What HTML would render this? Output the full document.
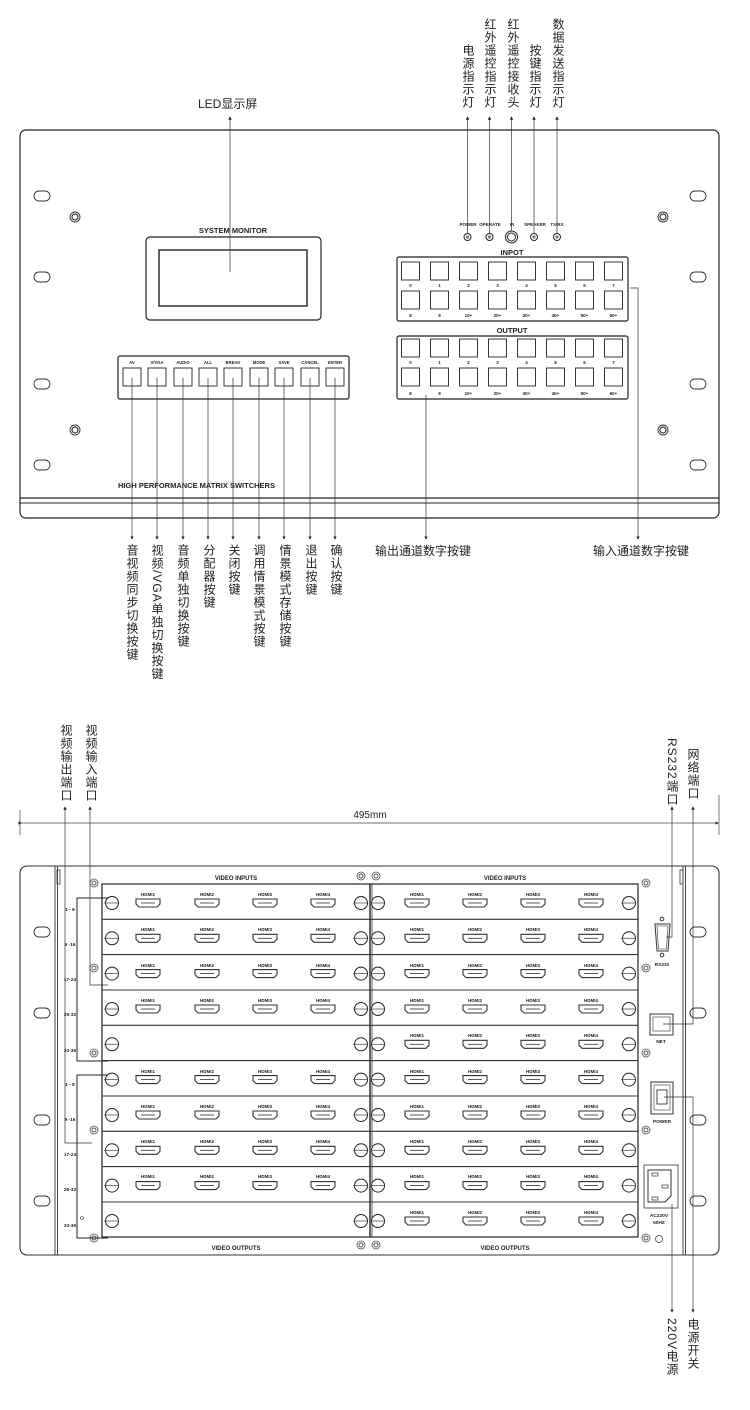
<!DOCTYPE html>
<html><head><meta charset="utf-8"><style>
html,body{margin:0;padding:0;background:#fff;}
#w{position:relative;width:750px;height:1410px;overflow:hidden;font-family:"Liberation Sans","Noto Sans CJK SC",sans-serif;}
.v{position:absolute;writing-mode:vertical-rl;font-size:12px;line-height:13px;letter-spacing:1px;color:#222;font-family:"Liberation Sans","Noto Sans CJK SC",sans-serif;}
.h{position:absolute;font-size:12px;color:#222;white-space:nowrap;font-family:"Liberation Sans","Noto Sans CJK SC",sans-serif;}
svg text{font-family:"Liberation Sans",sans-serif;font-weight:bold;fill:#222;}
</style></head><body><div id="w">
<svg width="750" height="1410" viewBox="0 0 750 1410" style="position:absolute;left:0;top:0">
<defs>
<marker id="a" markerWidth="5" markerHeight="5" refX="2.5" refY="2.5" orient="auto"><path d="M0,0L5,2.5L0,5z" fill="#222"/></marker>
<g id="oval"><rect x="-8" y="-5" width="16" height="10" rx="5" fill="none" stroke="#333" stroke-width="0.9"/></g>
<g id="scr"><circle r="5" fill="none" stroke="#333" stroke-width="0.9"/><circle r="3" fill="none" stroke="#333" stroke-width="1.2"/></g>
<g id="sscr"><circle r="4" fill="none" stroke="#555" stroke-width="0.8"/><circle r="2" fill="none" stroke="#555" stroke-width="1"/></g>
<g id="btn"><rect x="-9" y="0" width="18" height="18" fill="none" stroke="#222" stroke-width="0.9"/></g>
<g id="hc"><path d="M-12,15h24v5l-3,3h-18l-3,-3z" fill="none" stroke="#333" stroke-width="1.1"/><line x1="-7" y1="19" x2="7" y2="19" stroke="#333" stroke-width="0.8"/></g>
<g id="ci"><circle r="6.5" fill="#fff" stroke="#222" stroke-width="1"/><line x1="-8" y1="0" x2="6.5" y2="0" stroke="#555" stroke-width="0.8"/></g>
<g id="rowL"><use href="#ci" x="112" y="19"/><use href="#ci" x="361" y="19"/><use href="#hc" x="148"/><use href="#hc" x="207"/><use href="#hc" x="265"/><use href="#hc" x="323"/></g>
<g id="rowE"><use href="#ci" x="112" y="19"/><use href="#ci" x="361" y="19"/></g>
<g id="rowR"><use href="#ci" x="378" y="19"/><use href="#ci" x="629" y="19"/><use href="#hc" x="417"/><use href="#hc" x="475"/><use href="#hc" x="533"/><use href="#hc" x="591"/></g>
</defs>
<g stroke="#222" fill="none">
<!-- top panel -->
<rect x="20" y="130" width="699" height="388" rx="6" stroke-width="1.2"/>
<line x1="20" y1="498" x2="719" y2="498" stroke-width="1.2"/>
<line x1="20" y1="503" x2="719" y2="503" stroke-width="1"/>
<rect x="146" y="237" width="175" height="83" rx="4" stroke-width="1.2"/>
<rect x="159" y="250" width="148" height="56" stroke-width="1.4"/>
<rect x="118" y="356" width="231" height="43" rx="2" stroke-width="1.2"/>
<rect x="397" y="257" width="231" height="64" rx="2" stroke-width="1.2"/>
<rect x="397" y="336" width="231" height="63" rx="2" stroke-width="1.2"/>
</g>
<use href="#oval" x="42" y="196"/><use href="#oval" x="42" y="277"/><use href="#oval" x="42" y="384"/><use href="#oval" x="42" y="465"/>
<use href="#oval" x="698" y="196"/><use href="#oval" x="698" y="277"/><use href="#oval" x="698" y="384"/><use href="#oval" x="698" y="465"/>
<use href="#scr" x="75" y="217"/><use href="#scr" x="75" y="430"/><use href="#scr" x="663" y="217"/><use href="#scr" x="663" y="430"/>
<text x="233" y="233" font-size="7.5" text-anchor="middle">SYSTEM MONITOR</text>
<text x="118" y="488" font-size="7.5">HIGH PERFORMANCE MATRIX SWITCHERS</text>
<text x="512" y="255" font-size="7.5" text-anchor="middle">INPOT</text>
<text x="512" y="333" font-size="7.5" text-anchor="middle">OUTPUT</text>
<g font-size="4.5" text-anchor="middle">
<text x="468" y="226">POWER</text><text x="490" y="226">OPERATE</text><text x="512" y="226">IR</text><text x="535" y="226">SPEAKER</text><text x="557" y="226">TX/RX</text>
</g>
<g fill="none" stroke="#222" stroke-width="1"><circle cx="467.5" cy="237" r="3.5"/><circle cx="489.5" cy="237" r="3.5"/><circle cx="511.5" cy="237" r="6"/><circle cx="511.5" cy="237" r="4"/><circle cx="534" cy="237" r="3.5"/><circle cx="557" cy="237" r="3.5"/></g>
<g fill="#777"><circle cx="467.5" cy="237" r="1.6"/><circle cx="489.5" cy="237" r="1.6"/><circle cx="534" cy="237" r="1.6"/><circle cx="557" cy="237" r="1.6"/></g>
<!-- function buttons -->
<g><use href="#btn" x="132" y="368"/><use href="#btn" x="157" y="368"/><use href="#btn" x="183" y="368"/><use href="#btn" x="208" y="368"/><use href="#btn" x="233" y="368"/><use href="#btn" x="259" y="368"/><use href="#btn" x="284" y="368"/><use href="#btn" x="310" y="368"/><use href="#btn" x="335" y="368"/></g>
<g font-size="4.2" text-anchor="middle"><text x="132" y="364">AV</text><text x="157" y="364">V/VGA</text><text x="183" y="364">AUDIO</text><text x="208" y="364">ALL</text><text x="233" y="364">BREAK</text><text x="259" y="364">MODE</text><text x="284" y="364">SAVE</text><text x="310" y="364">CANCEL</text><text x="335" y="364">ENTER</text></g>
<!-- number buttons -->
<g>
<use href="#btn" x="410.5" y="262"/><use href="#btn" x="439.5" y="262"/><use href="#btn" x="468.5" y="262"/><use href="#btn" x="497.5" y="262"/><use href="#btn" x="526.5" y="262"/><use href="#btn" x="555.5" y="262"/><use href="#btn" x="584.5" y="262"/><use href="#btn" x="613.5" y="262"/>
<use href="#btn" x="410.5" y="291"/><use href="#btn" x="439.5" y="291"/><use href="#btn" x="468.5" y="291"/><use href="#btn" x="497.5" y="291"/><use href="#btn" x="526.5" y="291"/><use href="#btn" x="555.5" y="291"/><use href="#btn" x="584.5" y="291"/><use href="#btn" x="613.5" y="291"/>
<use href="#btn" x="410.5" y="339"/><use href="#btn" x="439.5" y="339"/><use href="#btn" x="468.5" y="339"/><use href="#btn" x="497.5" y="339"/><use href="#btn" x="526.5" y="339"/><use href="#btn" x="555.5" y="339"/><use href="#btn" x="584.5" y="339"/><use href="#btn" x="613.5" y="339"/>
<use href="#btn" x="410.5" y="368"/><use href="#btn" x="439.5" y="368"/><use href="#btn" x="468.5" y="368"/><use href="#btn" x="497.5" y="368"/><use href="#btn" x="526.5" y="368"/><use href="#btn" x="555.5" y="368"/><use href="#btn" x="584.5" y="368"/><use href="#btn" x="613.5" y="368"/>
</g>
<g font-size="4.5" text-anchor="middle">
<text x="410.5" y="287">0</text><text x="439.5" y="287">1</text><text x="468.5" y="287">2</text><text x="497.5" y="287">3</text><text x="526.5" y="287">4</text><text x="555.5" y="287">5</text><text x="584.5" y="287">6</text><text x="613.5" y="287">7</text>
<text x="410.5" y="317">8</text><text x="439.5" y="317">9</text><text x="468.5" y="317">10+</text><text x="497.5" y="317">20+</text><text x="526.5" y="317">30+</text><text x="555.5" y="317">40+</text><text x="584.5" y="317">50+</text><text x="613.5" y="317">60+</text>
<text x="410.5" y="364">0</text><text x="439.5" y="364">1</text><text x="468.5" y="364">2</text><text x="497.5" y="364">3</text><text x="526.5" y="364">4</text><text x="555.5" y="364">5</text><text x="584.5" y="364">6</text><text x="613.5" y="364">7</text>
<text x="410.5" y="395">8</text><text x="439.5" y="395">9</text><text x="468.5" y="395">10+</text><text x="497.5" y="395">20+</text><text x="526.5" y="395">30+</text><text x="555.5" y="395">40+</text><text x="584.5" y="395">50+</text><text x="613.5" y="395">60+</text>
</g>
<!-- top leader lines -->
<g stroke="#333" stroke-width="0.7" fill="none" marker-end="url(#a)">
<line x1="230" y1="272" x2="230" y2="118"/>
<line x1="467.5" y1="233" x2="467.5" y2="118"/><line x1="489.5" y1="233" x2="489.5" y2="118"/><line x1="511.5" y1="231" x2="511.5" y2="118"/><line x1="534" y1="233" x2="534" y2="118"/><line x1="557" y1="233" x2="557" y2="118"/>
<line x1="132" y1="378" x2="132" y2="538"/><line x1="157" y1="378" x2="157" y2="538"/><line x1="183" y1="378" x2="183" y2="538"/><line x1="208" y1="378" x2="208" y2="538"/><line x1="233" y1="378" x2="233" y2="538"/><line x1="259" y1="378" x2="259" y2="538"/><line x1="284" y1="378" x2="284" y2="538"/><line x1="310" y1="378" x2="310" y2="538"/><line x1="335" y1="378" x2="335" y2="538"/>
<line x1="426" y1="395" x2="426" y2="538"/>
<polyline points="630,288 638,288 638,538"/>
</g>
<!-- bottom: dimension -->
<g stroke="#444" stroke-width="0.7" fill="none">
<line x1="20" y1="810" x2="20" y2="835"/><line x1="719" y1="795" x2="719" y2="835"/>
<line x1="20" y1="823" x2="717" y2="823" marker-end="url(#a)" marker-start="url(#a)"/>
</g>
<text x="370" y="818" font-size="10" font-weight="normal" text-anchor="middle" style="font-weight:normal">495mm</text>
<!-- rear panel -->
<g stroke="#333" fill="none">
<rect x="20" y="866" width="699" height="389" rx="7" stroke-width="1.1"/>
<line x1="55" y1="866" x2="55" y2="1255" stroke-width="0.9"/><line x1="57.5" y1="866" x2="57.5" y2="1255" stroke-width="0.9"/>
<line x1="683" y1="866" x2="683" y2="1255" stroke-width="0.9"/><line x1="685.5" y1="866" x2="685.5" y2="1255" stroke-width="0.9"/>
<rect x="57" y="870" width="3" height="14" stroke-width="0.8"/><rect x="680" y="870" width="3" height="14" stroke-width="0.8"/>
<rect x="102" y="884" width="268" height="353" stroke-width="1.3"/>
<rect x="370" y="884" width="268" height="353" stroke-width="1.3"/>
<line x1="372" y1="884" x2="372" y2="1237" stroke-width="0.8"/>
<g stroke-width="1.1">
<line x1="102" y1="919.3" x2="638" y2="919.3"/><line x1="102" y1="954.6" x2="638" y2="954.6"/><line x1="102" y1="990" x2="638" y2="990"/><line x1="102" y1="1025.3" x2="638" y2="1025.3"/><line x1="102" y1="1060.6" x2="638" y2="1060.6"/><line x1="102" y1="1096" x2="638" y2="1096"/><line x1="102" y1="1131.3" x2="638" y2="1131.3"/><line x1="102" y1="1166.6" x2="638" y2="1166.6"/><line x1="102" y1="1202" x2="638" y2="1202"/>
</g>
</g>
<use href="#oval" x="42" y="932"/><use href="#oval" x="42" y="1013"/><use href="#oval" x="42" y="1120"/><use href="#oval" x="42" y="1201"/>
<use href="#oval" x="698" y="932"/><use href="#oval" x="698" y="1013"/><use href="#oval" x="698" y="1120"/><use href="#oval" x="698" y="1201"/>
<use href="#sscr" x="94" y="883"/><use href="#sscr" x="94" y="968"/><use href="#sscr" x="94" y="1053"/><use href="#sscr" x="94" y="1130"/><use href="#sscr" x="94" y="1238"/>
<use href="#sscr" x="361" y="876"/><use href="#sscr" x="376" y="876"/><use href="#sscr" x="361" y="1245"/><use href="#sscr" x="376" y="1245"/>
<use href="#sscr" x="646" y="883"/><use href="#sscr" x="646" y="968"/><use href="#sscr" x="646" y="1053"/><use href="#sscr" x="646" y="1130"/><use href="#sscr" x="646" y="1238"/>
<text x="236" y="880" font-size="6" text-anchor="middle">VIDEO INPUTS</text><text x="505" y="880" font-size="6" text-anchor="middle">VIDEO INPUTS</text>
<text x="236" y="1250" font-size="6" text-anchor="middle">VIDEO OUTPUTS</text><text x="505" y="1250" font-size="6" text-anchor="middle">VIDEO OUTPUTS</text>
<!-- rows -->
<use href="#rowL" y="884"/><use href="#rowL" y="919.3"/><use href="#rowL" y="954.6"/><use href="#rowL" y="990"/><use href="#rowE" y="1025.3"/>
<use href="#rowL" y="1060.6"/><use href="#rowL" y="1096"/><use href="#rowL" y="1131.3"/><use href="#rowL" y="1166.6"/><use href="#rowE" y="1202"/>
<use href="#rowR" y="884"/><use href="#rowR" y="919.3"/><use href="#rowR" y="954.6"/><use href="#rowR" y="990"/><use href="#rowR" y="1025.3"/>
<use href="#rowR" y="1060.6"/><use href="#rowR" y="1096"/><use href="#rowR" y="1131.3"/><use href="#rowR" y="1166.6"/><use href="#rowR" y="1202"/>
<g font-size="4.5" text-anchor="middle">
<text x="148" y="896">HDMI1</text><text x="207" y="896">HDMI2</text><text x="265" y="896">HDMI3</text><text x="323" y="896">HDMI4</text><text x="417" y="896">HDMI1</text><text x="475" y="896">HDMI2</text><text x="533" y="896">HDMI3</text><text x="591" y="896">HDMI4</text>
<text x="148" y="931">HDMI1</text><text x="207" y="931">HDMI2</text><text x="265" y="931">HDMI3</text><text x="323" y="931">HDMI4</text><text x="417" y="931">HDMI1</text><text x="475" y="931">HDMI2</text><text x="533" y="931">HDMI3</text><text x="591" y="931">HDMI4</text>
<text x="148" y="967">HDMI1</text><text x="207" y="967">HDMI2</text><text x="265" y="967">HDMI3</text><text x="323" y="967">HDMI4</text><text x="417" y="967">HDMI1</text><text x="475" y="967">HDMI2</text><text x="533" y="967">HDMI3</text><text x="591" y="967">HDMI4</text>
<text x="148" y="1002">HDMI1</text><text x="207" y="1002">HDMI2</text><text x="265" y="1002">HDMI3</text><text x="323" y="1002">HDMI4</text><text x="417" y="1002">HDMI1</text><text x="475" y="1002">HDMI2</text><text x="533" y="1002">HDMI3</text><text x="591" y="1002">HDMI4</text>
<text x="417" y="1037">HDMI1</text><text x="475" y="1037">HDMI2</text><text x="533" y="1037">HDMI3</text><text x="591" y="1037">HDMI4</text>
<text x="148" y="1073">HDMI1</text><text x="207" y="1073">HDMI2</text><text x="265" y="1073">HDMI3</text><text x="323" y="1073">HDMI4</text><text x="417" y="1073">HDMI1</text><text x="475" y="1073">HDMI2</text><text x="533" y="1073">HDMI3</text><text x="591" y="1073">HDMI4</text>
<text x="148" y="1108">HDMI1</text><text x="207" y="1108">HDMI2</text><text x="265" y="1108">HDMI3</text><text x="323" y="1108">HDMI4</text><text x="417" y="1108">HDMI1</text><text x="475" y="1108">HDMI2</text><text x="533" y="1108">HDMI3</text><text x="591" y="1108">HDMI4</text>
<text x="148" y="1143">HDMI1</text><text x="207" y="1143">HDMI2</text><text x="265" y="1143">HDMI3</text><text x="323" y="1143">HDMI4</text><text x="417" y="1143">HDMI1</text><text x="475" y="1143">HDMI2</text><text x="533" y="1143">HDMI3</text><text x="591" y="1143">HDMI4</text>
<text x="148" y="1178">HDMI1</text><text x="207" y="1178">HDMI2</text><text x="265" y="1178">HDMI3</text><text x="323" y="1178">HDMI4</text><text x="417" y="1178">HDMI1</text><text x="475" y="1178">HDMI2</text><text x="533" y="1178">HDMI3</text><text x="591" y="1178">HDMI4</text>
<text x="417" y="1214">HDMI1</text><text x="475" y="1214">HDMI2</text><text x="533" y="1214">HDMI3</text><text x="591" y="1214">HDMI4</text>
</g>
<!-- brackets -->
<g stroke="#222" stroke-width="1" fill="none">
<polyline points="108,898 77,898 77,1061 108,1061"/>
<polyline points="108,1075 77,1075 77,1238 108,1238"/>
</g>
<g font-size="4.8" text-anchor="middle">
<text x="70" y="911">1 - 8</text><text x="70" y="946">9 -16</text><text x="70" y="981">17-24</text><text x="70" y="1016">25-32</text><text x="70" y="1052">33-36</text>
<text x="70" y="1086">1 - 8</text><text x="70" y="1121">9 -16</text><text x="70" y="1156">17-24</text><text x="70" y="1191">25-32</text><text x="70" y="1227">33-36</text>
</g>
<circle cx="82" cy="1218" r="1.5" fill="none" stroke="#333" stroke-width="0.6"/>
<!-- rear right components -->
<g stroke="#333" fill="none" stroke-width="1">
<circle cx="662" cy="919" r="1.8"/><circle cx="662" cy="955" r="1.8"/>
<path d="M655,924h15l-2,27h-11z"/><path d="M657,926h11l-1.5,23h-8z" stroke-width="0.6"/>
<rect x="650" y="1014" width="23" height="21"/><rect x="653" y="1017" width="17" height="14" stroke-width="0.6"/>
<rect x="651" y="1082" width="22" height="32"/><rect x="654" y="1085" width="16" height="25" stroke-width="0.6"/><rect x="657" y="1090" width="10" height="14" stroke-width="0.9"/>
<rect x="644" y="1165" width="34" height="43" stroke-width="0.8"/><path d="M648,1170h23v26l-6,6h-17z" stroke-width="1"/>
<rect x="652" y="1173" width="6" height="3" stroke-width="0.7"/><rect x="662" y="1185" width="6" height="3" stroke-width="0.7"/><rect x="652" y="1197" width="6" height="3" stroke-width="0.7"/>
<circle cx="659" cy="1239" r="3.5" stroke-width="0.7"/>
</g>
<g font-size="4.8" text-anchor="middle"><text x="662" y="966">RS232</text><text x="661" y="1043">NET</text><text x="662" y="1123">POWER</text><text x="659" y="1217">AC220V</text><text x="659" y="1224">50HZ</text></g>
<!-- rear leaders -->
<g stroke="#333" stroke-width="0.7" fill="none">
<polyline points="92,1143 65,1143 65,808" marker-end="url(#a)"/>
<polyline points="108,985 90,985 90,808" marker-end="url(#a)"/>
<polyline points="666,937 672,937 672,808" marker-end="url(#a)"/>
<polyline points="663,1024 693,1024 693,808" marker-end="url(#a)"/>
<polyline points="664,1097 693,1097 693,1311" marker-end="url(#a)"/>
<polyline points="672,1204 672,1311" marker-end="url(#a)"/>
</g>
</svg>
<!-- labels -->
<div class="h" style="left:198px;top:95px;">LED显示屏</div>
<div class="v" style="left:461px;top:44px;">电源指示灯</div>
<div class="v" style="left:483px;top:18px;">红外遥控指示灯</div>
<div class="v" style="left:506px;top:18px;">红外遥控接收头</div>
<div class="v" style="left:528px;top:44px;">按键指示灯</div>
<div class="v" style="left:551px;top:18px;">数据发送指示灯</div>
<div class="v" style="left:125px;top:544px;">音视频同步切换按键</div>
<div class="v" style="left:150px;top:544px;">视频/VGA单独切换按键</div>
<div class="v" style="left:176px;top:544px;">音频单独切换按键</div>
<div class="v" style="left:202px;top:544px;">分配器按键</div>
<div class="v" style="left:227px;top:544px;">关闭按键</div>
<div class="v" style="left:252px;top:544px;">调用情景模式按键</div>
<div class="v" style="left:278px;top:544px;">情景模式存储按键</div>
<div class="v" style="left:304px;top:544px;">退出按键</div>
<div class="v" style="left:329px;top:544px;">确认按键</div>
<div class="h" style="left:375px;top:542px;">输出通道数字按键</div>
<div class="h" style="left:593px;top:542px;">输入通道数字按键</div>
<div class="v" style="left:59px;top:724px;">视频输出端口</div>
<div class="v" style="left:84px;top:724px;">视频输入端口</div>
<div class="v" style="left:665px;top:738px;">RS232端口</div>
<div class="v" style="left:686px;top:748px;">网络端口</div>
<div class="v" style="left:665px;top:1318px;">220V电源</div>
<div class="v" style="left:686px;top:1318px;">电源开关</div>
</div></body></html>
